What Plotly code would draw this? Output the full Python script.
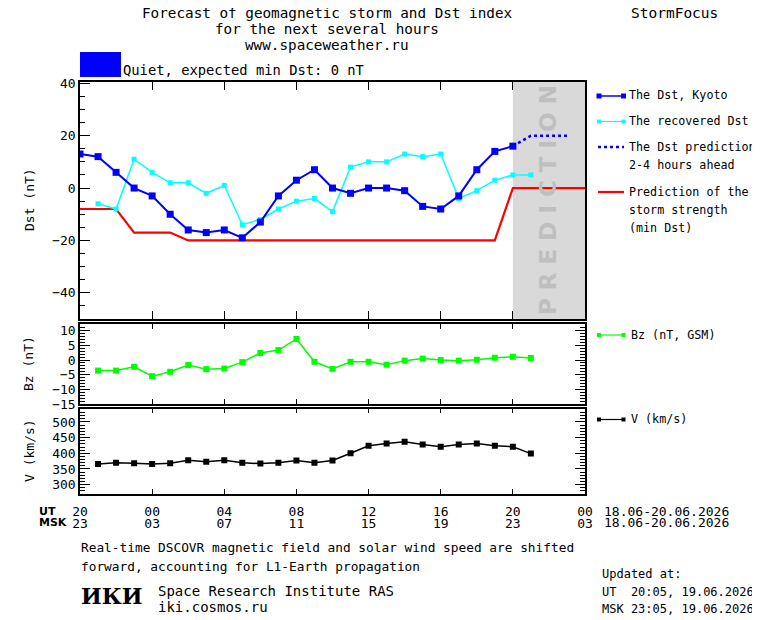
import pandas as pd
import plotly.graph_objs as go

W, H = 760, 620
PAGE_OFFSET = 8  # default body margin of the html page

# hourly values, UT
dst_kyoto = [13, 12, 6, 0, -3, -10, -16, -17, -16, -19, -13, -3, 3, 7, 0, -2, 0, 0, -1, -7, -8, -3, 7, 14, 16]
dst_recovered = [-6, -8, 11, 6, 2, 2, -2, 1, -14, -12, -8, -5, -4, -9, 8, 10, 10, 13, 12, 13, -4, -1, 3, 5, 5]
dst_pred_times = ['2026-06-19 20:00', '2026-06-19 21:00', '2026-06-19 22:00', '2026-06-19 23:00']
dst_pred = [16, 20, 20, 20]
min_dst = [-8, -8, -8, -17, -17, -17, -20, -20, -20, -20, -20, -20, -20, -20, -20, -20, -20, -20,
           -20, -20, -20, -20, -20, -20, 0, 0, 0, 0, 0]
bz = [-3.6, -3.6, -2.3, -5.5, -4.0, -1.7, -3.1, -2.9, -0.7, 2.4, 3.4, 7.2, -0.6, -3.0, -0.6, -0.6,
      -1.6, -0.2, 0.5, 0.0, -0.2, 0.1, 0.8, 1.1, 0.7]
speed = [366, 370, 368, 366, 368, 378, 373, 378, 370, 367, 370, 377, 370, 377, 400, 424, 431, 437,
         428, 421, 428, 431, 424, 421, 399]

t_dst = pd.date_range('2026-06-18 20:00', periods=len(dst_kyoto), freq='h')
t_rec = pd.date_range('2026-06-18 21:00', periods=len(dst_recovered), freq='h')
t_min = pd.date_range('2026-06-18 20:00', periods=len(min_dst), freq='h')
t_sw = pd.date_range('2026-06-18 21:00', periods=len(bz), freq='h')

tick_times = ['2026-06-18 20:00', '2026-06-19 00:00', '2026-06-19 04:00', '2026-06-19 08:00',
              '2026-06-19 12:00', '2026-06-19 16:00', '2026-06-19 20:00', '2026-06-20 00:00']
ut_labels = ['20', '00', '04', '08', '12', '16', '20', '00']
msk_labels = ['23', '03', '07', '11', '15', '19', '23', '03']
x_range = ['2026-06-18 20:00', '2026-06-20 00:00']

MONO = 'DejaVu Sans Mono'


def px(x):
    return (x - PAGE_OFFSET) / W


def py(y):
    return 1 - (y - PAGE_OFFSET) / H


fig = go.Figure()
fig.add_trace(go.Scatter(x=t_min, y=min_dst, mode='lines', line=dict(color='#ff0000', width=2.2),
                         xaxis='x', yaxis='y'))
fig.add_trace(go.Scatter(x=t_rec, y=dst_recovered, mode='lines+markers',
                         line=dict(color='#00ffff', width=1.5),
                         marker=dict(symbol='square', size=5, color='#00ffff'), xaxis='x', yaxis='y'))
fig.add_trace(go.Scatter(x=t_dst, y=dst_kyoto, mode='lines+markers',
                         line=dict(color='#0000ff', width=2),
                         marker=dict(symbol='square', size=7, color='#0000ff'), xaxis='x', yaxis='y'))
fig.add_trace(go.Scatter(x=dst_pred_times, y=dst_pred, mode='lines',
                         line=dict(color='#0000ff', width=2.5, dash='dot'), xaxis='x', yaxis='y'))
fig.add_trace(go.Scatter(x=t_sw, y=bz, mode='lines+markers', line=dict(color='#00ff00', width=1.5),
                         marker=dict(symbol='square', size=6, color='#00ff00'), xaxis='x2', yaxis='y2'))
fig.add_trace(go.Scatter(x=t_sw, y=speed, mode='lines+markers', line=dict(color='black', width=1.5),
                         marker=dict(symbol='square', size=6, color='black'), xaxis='x3', yaxis='y3'))
# invisible trace so the MSK label axis is drawn
fig.add_trace(go.Scatter(x=x_range, y=[300, 300], mode='lines', line=dict(width=0),
                         hoverinfo='skip', xaxis='x4', yaxis='y3'))

xcommon = dict(type='date', range=x_range, tickvals=tick_times, ticks='inside', showline=True,
               linecolor='black', linewidth=1.5, mirror='ticks', showgrid=False, zeroline=False,
               tickcolor='black', tickwidth=1, domain=[px(80), px(585)], automargin=False)
ycommon = dict(ticks='inside', showline=True, linecolor='black', linewidth=1.5, showgrid=False,
               zeroline=False, tickcolor='black', ticklen=10, tickwidth=1, automargin=False,
               tickfont=dict(family=MONO, size=13, color='black'))

fig.update_layout(
    template='none',
    width=W, height=H, autosize=False, showlegend=False,
    margin=dict(l=0, r=0, t=0, b=0, pad=0),
    paper_bgcolor='white', plot_bgcolor='white',
    font=dict(family=MONO, color='black'),
    xaxis=dict(xcommon, anchor='y', showticklabels=False, ticklen=8),
    xaxis2=dict(xcommon, anchor='y2', showticklabels=False, ticklen=5),
    xaxis3=dict(xcommon, anchor='y3', ticktext=ut_labels, ticklen=5, ticklabelstandoff=5,
                tickfont=dict(family=MONO, size=13, color='black')),
    xaxis4=dict(type='date', range=x_range, tickvals=tick_times, ticktext=msk_labels,
                overlaying='x3', anchor='free', position=py(513.5), showline=False, ticks='',
                showgrid=False, zeroline=False, automargin=False,
                tickfont=dict(family=MONO, size=13, color='black')),
    yaxis=dict(ycommon, domain=[py(319), py(82)], range=[-50, 40.5], dtick=20, tick0=0,
               mirror=True, anchor='x',
               minor=dict(dtick=5, ticklen=5, ticks='inside', tickcolor='black')),
    yaxis2=dict(ycommon, domain=[py(404), py(324)], range=[-15, 12.3], dtick=5, tick0=0,
                mirror='ticks', anchor='x2',
                minor=dict(dtick=1, ticklen=5, ticks='inside', tickcolor='black')),
    yaxis3=dict(ycommon, domain=[py(494), py(408.5)], range=[270, 543], dtick=50, tick0=0,
                mirror='ticks', anchor='x3',
                minor=dict(dtick=10, ticklen=5, ticks='inside', tickcolor='black')),
)

shapes = [
    # prediction band
    dict(type='rect', xref='x', yref='y domain', x0='2026-06-19 20:00', x1=x_range[1], y0=0, y1=1,
         fillcolor='#d9d9d9', line=dict(width=0), layer='below'),
    # storm level box
    dict(type='rect', xref='paper', yref='paper', x0=px(80), x1=px(121), y0=py(77), y1=py(52),
         fillcolor='#0000ff', line=dict(width=0)),
]


def legend_line(y, color, width=1.5, dash='solid', sq=0):
    shapes.append(dict(type='line', xref='paper', yref='paper', x0=px(598), x1=px(624),
                       y0=py(y), y1=py(y), line=dict(color=color, width=width, dash=dash)))
    if sq:
        for cx in (599, 623.5):
            shapes.append(dict(type='rect', xref='paper', yref='paper',
                               x0=px(cx - sq / 2), x1=px(cx + sq / 2),
                               y0=py(y + sq / 2), y1=py(y - sq / 2),
                               fillcolor=color, line=dict(width=0)))


legend_line(96, '#0000ff', 1.5, sq=5)
legend_line(121.5, '#00ffff', 1.2, sq=4)
legend_line(147, '#0000ff', 2.5, dash='dot')
legend_line(192, '#ff0000', 2.2)
legend_line(335, '#00ff00', 1.2, sq=4)
legend_line(419.5, 'black', 1.2, sq=4)
fig.update_layout(shapes=shapes)

annotations = []


def text(x, y, s, size=13, anchor='left', **kw):
    font = dict(family=kw.pop('family', MONO), size=size, color=kw.pop('color', 'black'))
    if 'weight' in kw:
        font['weight'] = kw.pop('weight')
    annotations.append(dict(x=px(x), y=py(y), xref='paper', yref='paper', text=s, showarrow=False,
                            xanchor=anchor, yanchor='middle', font=font, **kw))


text(327, 13, 'Forecast of geomagnetic storm and Dst index', 14.3, 'center')
text(327, 29, 'for the next several hours', 14.3, 'center')
text(327, 45, 'www.spaceweather.ru', 14.3, 'center')
text(674, 13, 'StormFocus', 14.5, 'center')
text(121, 70, 'Quiet, expected min Dst: 0 nT', 13.8)

text(627, 95, 'The Dst, Kyoto', 11.7)
text(627, 121, 'The recovered Dst', 11.7)
text(627, 147, 'The Dst prediction', 11.7)
text(627, 165, '2-4 hours ahead', 11.7)
text(627, 192, 'Prediction of the', 11.7)
text(627, 210, 'storm strength', 11.7)
text(627, 228, '(min Dst)', 11.7)
text(629, 335, 'Bz (nT, GSM)', 11.7)
text(629, 419, 'V (km/s)', 11.7)

text(548, 200, 'P R E D I C T I O N', 23, 'center', textangle=-90, color='#bfbfbf',
     family='DejaVu Sans', weight='bold')

text(29, 200, 'Dst (nT)', 13, 'center', textangle=-90)
text(28, 364, 'Bz (nT)', 13, 'center', textangle=-90)
text(29, 451, 'V (km/s)', 13, 'center', textangle=-90)

text(37, 511.5, 'UT', 11, family='DejaVu Sans', weight='bold')
text(37, 522.5, 'MSK', 11, family='DejaVu Sans', weight='bold')
text(602, 511.5, '18.06-20.06.2026', 13)
text(602, 522.5, '18.06-20.06.2026', 13)

text(79, 547, 'Real-time DSCOVR magnetic field and solar wind speed are shifted', 12.8)
text(79, 566, 'forward, accounting for L1-Earth propagation', 12.8)
text(79, 596, 'ИКИ', 22, family='DejaVu Serif', weight='bold')
text(156, 591, 'Space Research Institute RAS', 14)
text(156, 607, 'iki.cosmos.ru', 14)
text(600, 574, 'Updated at:', 12)
text(600, 592, 'UT\u00a0\u00a020:05, 19.06.2026', 12)
text(600, 609, 'MSK 23:05, 19.06.2026', 12)

fig.update_layout(annotations=annotations)

fig.write_html('out.html')
